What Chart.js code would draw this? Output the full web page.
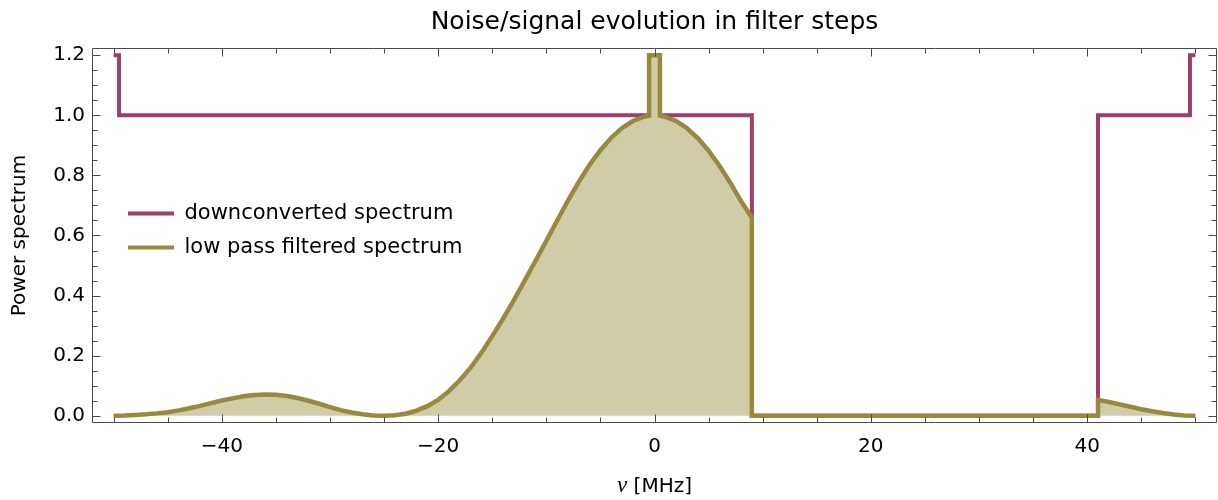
<!DOCTYPE html>
<html>
<head>
<meta charset="utf-8">
<script src="https://cdn.jsdelivr.net/npm/chart.js@4/dist/chart.umd.min.js"></script>
<style>
html,body{margin:0;padding:0;background:#fff;}
canvas{display:block;}
</style>
</head>
<body>
<canvas id="c" width="1218" height="500"></canvas>
<script>
// ---------- data ----------
const chartTitle = 'Noise/signal evolution in filter steps';
const yAxisTitle = 'Power spectrum';
const xLabelSymbol = 'ν';
const xLabelUnit = ' [MHz]';
const seriesNames = ['downconverted spectrum', 'low pass filtered spectrum'];

// downconverted spectrum (step shape)
const downX = [-50, -49.5, -49.5, -0.5, -0.5, 0.5, 0.5, 9, 9, 41, 41, 49.5, 49.5, 50];
const downY = [1.2, 1.2, 1.0, 1.0, 1.2, 1.2, 1.0, 1.0, 0, 0, 1.0, 1.0, 1.2, 1.2];

// low pass filtered spectrum
const filtX = [-50, -49, -48, -47, -46, -45, -44, -43, -42, -41,
               -40, -39, -38, -37, -36, -35, -34, -33, -32, -31,
               -30, -29, -28, -27, -26, -25, -24, -23, -22, -21,
               -20, -19, -18, -17, -16, -15, -14, -13, -12, -11,
               -10, -9, -8, -7, -6, -5, -4, -3, -2, -1,
               -0.5, -0.5, 0.5, 0.5,
               1, 2, 3, 4, 5, 6, 7, 8, 9, 9,
               41, 41, 42, 43, 44, 45, 46, 47, 48, 49, 50];
const filtY = [0.000, 0.001, 0.003, 0.005, 0.008, 0.012, 0.018, 0.025, 0.033, 0.042,
               0.051, 0.058, 0.065, 0.069, 0.071, 0.070, 0.066, 0.059, 0.050, 0.040,
               0.029, 0.019, 0.011, 0.005, 0.001, 0.000, 0.002, 0.007, 0.017, 0.032,
               0.053, 0.082, 0.118, 0.160, 0.210, 0.265, 0.323, 0.385, 0.450, 0.516,
               0.582, 0.650, 0.716, 0.778, 0.835, 0.884, 0.925, 0.958, 0.981, 0.995,
               0.999, 1.2, 1.2, 0.999,
               0.995, 0.981, 0.957, 0.924, 0.882, 0.832, 0.776, 0.714, 0.660, 0.000,
               0.000, 0.053, 0.046, 0.038, 0.030, 0.022, 0.015, 0.009, 0.004, 0.001, 0.000];

const xMajorTicks = [-40, -20, 0, 20, 40];
const yMajorTicks = [0, 0.2, 0.4, 0.6, 0.8, 1.0, 1.2];
const xMinorStep = 5;
const yMinorStep = 0.05;
const xRange = [-52, 52];
const yRange = [-0.024, 1.224];

// ---------- styles ----------
const purple = '#9e3d6e';
const olive = '#978a3f';
const oliveFill = '#d1cca8';
const frameColor = '#4a4a4a';
const FONT = "'DejaVu Sans', 'Liberation Sans', sans-serif";

Chart.defaults.font.family = FONT;
Chart.defaults.color = '#000';

// frame with inward ticks on all four sides
const framePlugin = {
  id: 'frameTicks',
  afterDatasetsDraw(chart) {
    const {ctx, chartArea: a, scales: {x, y}} = chart;
    const L = Math.round(a.left) + 0.5, R = Math.round(a.right) - 0.5;
    const T = Math.round(a.top) + 0.5, B = Math.round(a.bottom) - 0.5;
    ctx.save();
    ctx.strokeStyle = frameColor;
    ctx.lineWidth = 1;
    ctx.beginPath();
    ctx.rect(L, T, R - L, B - T);
    const major = 8, minor = 5;
    const xt = (v, len) => {
      const p = Math.round(x.getPixelForValue(v)) + 0.5;
      ctx.moveTo(p, B); ctx.lineTo(p, B - len);
      ctx.moveTo(p, T); ctx.lineTo(p, T + len);
    };
    const yt = (v, len) => {
      const p = Math.round(y.getPixelForValue(v)) + 0.5;
      ctx.moveTo(L, p); ctx.lineTo(L + len, p);
      ctx.moveTo(R, p); ctx.lineTo(R - len, p);
    };
    for (let v = -50; v <= 50.001; v += xMinorStep) {
      const isMajor = xMajorTicks.some(m => Math.abs(m - v) < 1e-9);
      xt(v, isMajor ? major : minor);
    }
    for (let k = 0; k * yMinorStep <= 1.2 + 1e-9; k++) {
      const v = k * yMinorStep;
      const isMajor = yMajorTicks.some(m => Math.abs(m - v) < 1e-9);
      yt(v, isMajor ? major : minor);
    }
    ctx.stroke();
    ctx.restore();
  }
};

// x-axis label with italic nu
const xLabelPlugin = {
  id: 'xLabel',
  afterDraw(chart) {
    const {ctx, chartArea: a} = chart;
    const cx = (a.left + a.right) / 2;
    const f1 = "italic 23px 'Liberation Serif', 'DejaVu Serif', serif";
    const f2 = "20px " + FONT;
    ctx.save();
    ctx.fillStyle = '#000';
    ctx.textBaseline = 'alphabetic';
    ctx.textAlign = 'left';
    ctx.font = f1; const w1 = ctx.measureText(xLabelSymbol).width;
    ctx.font = f2; const w2 = ctx.measureText(xLabelUnit).width;
    const x0 = cx - (w1 + w2) / 2;
    const baseY = a.bottom + 69;
    ctx.font = f1; ctx.fillText(xLabelSymbol, x0, baseY);
    ctx.font = f2; ctx.fillText(xLabelUnit, x0 + w1, baseY);
    ctx.restore();
  }
};

// place legend inside plot area
const legendPlace = {
  id: 'legendPlace',
  afterLayout(chart) {
    const lg = chart.legend;
    if (!lg) return;
    const dx = 115 - lg.left, dy = 190 - lg.top;
    lg.left += dx; lg.right += dx;
    lg.top += dy; lg.bottom += dy;
  }
};

new Chart(document.getElementById('c'), {
  type: 'line',
  data: {
    datasets: [
      {
        label: seriesNames[1],
        data: filtX.map((x, i) => ({x: x, y: filtY[i]})),
        borderColor: olive,
        backgroundColor: oliveFill,
        fill: 'origin',
        borderWidth: 4.5,
        pointRadius: 0,
        tension: 0,
        borderJoinStyle: 'miter',
        borderCapStyle: 'butt'
      },
      {
        label: seriesNames[0],
        data: downX.map((x, i) => ({x: x, y: downY[i]})),
        borderColor: purple,
        backgroundColor: purple,
        fill: false,
        borderWidth: 4,
        pointRadius: 0,
        tension: 0,
        borderJoinStyle: 'miter',
        borderCapStyle: 'butt'
      }
    ]
  },
  options: {
    responsive: false,
    animation: false,
    devicePixelRatio: 1,
    events: [],
    layout: {padding: {left: 0, right: 1, top: 0, bottom: 0}},
    plugins: {
      title: {
        display: true,
        text: chartTitle,
        fullSize: false,
        color: '#000',
        font: {family: FONT, size: 25, weight: 'normal'},
        padding: {top: 7, bottom: 11}
      },
      legend: {
        position: 'chartArea',
        align: 'start',
        labels: {
          boxWidth: 46,
          boxHeight: 4,
          padding: 13,
          color: '#000',
          font: {family: FONT, size: 21},
          sort: (a, b) => b.datasetIndex - a.datasetIndex,
          generateLabels: (chart) => chart.data.datasets.map((ds, i) => ({
            text: ds.label,
            fillStyle: ds.borderColor,
            strokeStyle: ds.borderColor,
            lineWidth: 0,
            hidden: false,
            datasetIndex: i
          }))
        }
      },
      tooltip: {enabled: false}
    },
    scales: {
      x: {
        type: 'linear',
        min: xRange[0],
        max: xRange[1],
        grid: {display: false, drawTicks: false},
        border: {display: false},
        afterBuildTicks: (s) => { s.ticks = xMajorTicks.map(v => ({value: v})); },
        afterFit: (s) => { s.height = 77; },
        ticks: {
          padding: 12,
          color: '#000',
          font: {family: FONT, size: 20},
          maxRotation: 0,
          callback: (v) => (v < 0 ? '\u2212' + Math.abs(v) : String(v))
        }
      },
      y: {
        type: 'linear',
        min: yRange[0],
        max: yRange[1],
        grid: {display: false, drawTicks: false},
        border: {display: false},
        afterBuildTicks: (s) => { s.ticks = yMajorTicks.map(v => ({value: v})); },
        afterFit: (s) => { s.width = 92; },
        ticks: {
          padding: 7,
          color: '#000',
          font: {family: FONT, size: 20},
          callback: (v) => Number(v).toFixed(1)
        },
        title: {
          display: true,
          text: yAxisTitle,
          color: '#000',
          font: {family: FONT, size: 20},
          padding: {top: 8, bottom: 0}
        }
      }
    }
  },
  plugins: [framePlugin, xLabelPlugin, legendPlace]
});
</script>
</body>
</html>
